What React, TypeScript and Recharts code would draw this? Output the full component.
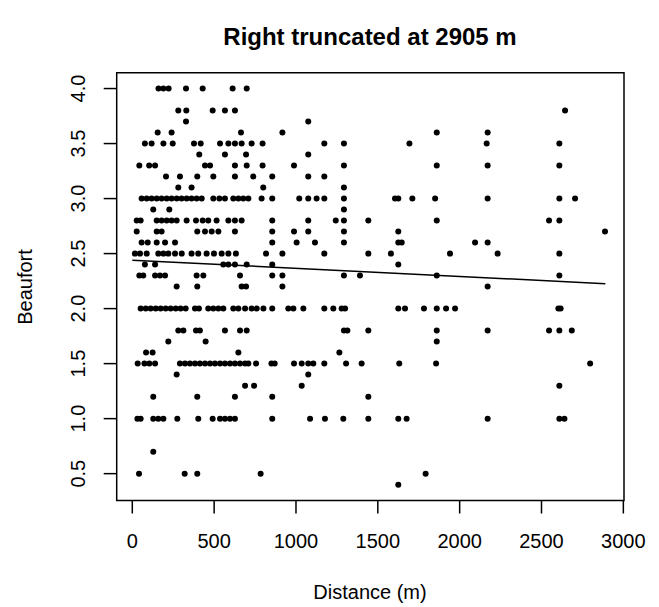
import React from 'react';
import { ScatterChart, Scatter, XAxis, YAxis, ReferenceArea, ReferenceLine } from 'recharts';

// Distances (m) observed at each Beaufort value
const b40 = [160, 190, 222, 328, 430, 613, 699];
const b38 = [281, 330, 491, 566, 627, 2644];
const b37 = [328, 1075];
const b36 = [155, 240, 664, 917, 1860, 2171];
const b35 = [77, 118, 190, 247, 377, 418, 536, 587, 627, 668, 729, 796, 1173, 1293, 1693, 2165, 2609];
const b34 = [409, 566, 695, 1075];
const b33 = [43, 103, 139, 444, 475, 627, 699, 796, 988, 1293, 1860, 2171, 2609];
const b32 = [206, 291, 397, 495, 627, 739, 855, 1075, 1173];
const b31 = [281, 362, 800, 1293];
const b30 = [57, 88, 118, 149, 179, 210, 240, 271, 301, 332, 362, 393, 424, 495, 532, 566, 617, 648, 678, 709, 790, 855, 1020, 1075, 1126, 1173, 1293, 1605, 1625, 1711, 1850, 2171, 2609, 2705];
const b29 = [128, 226, 1293];
const b28 = [27, 51, 149, 179, 210, 240, 271, 332, 389, 430, 464, 515, 587, 627, 668, 855, 1075, 1243, 1293, 1442, 1860, 2546, 2609];
const b27 = [27, 149, 179, 397, 444, 485, 526, 627, 855, 988, 1075, 1293, 1625, 2888];
const b26 = [57, 94, 149, 200, 261, 855, 1004, 1116, 1293, 1625, 1646, 2094, 2171];
const b25 = [16, 47, 88, 159, 190, 220, 261, 302, 362, 403, 454, 499, 546, 587, 633, 817, 917, 1173, 1442, 1580, 1941, 2232, 2609];
const b24 = [77, 139, 556, 587, 627, 699, 855, 1625];
const b23 = [43, 67, 139, 169, 200, 393, 434, 658, 855, 917, 1293, 1391, 1860, 2609];
const b22 = [271, 397, 668, 695, 917, 2171];
const b20 = [51, 82, 112, 143, 173, 204, 234, 265, 295, 326, 383, 407, 464, 495, 526, 556, 617, 648, 689, 729, 760, 801, 855, 953, 984, 1045, 1173, 1228, 1279, 1300, 1625, 1666, 1782, 1860, 1917, 1972, 2603, 2617];
const b18 = [281, 312, 389, 413, 566, 658, 699, 1293, 1314, 1442, 1860, 2171, 2546, 2609, 2685];
const b17 = [220, 448, 1860];
const b16 = [84, 124, 648, 1265];
const b15 = [33, 74, 104, 139, 291, 322, 352, 383, 413, 444, 475, 505, 536, 566, 597, 627, 658, 689, 709, 756, 850, 870, 988, 1035, 1075, 1106, 1173, 1306, 1401, 1631, 1856, 2797];
const b14 = [271, 1075];
const b13 = [689, 744, 1035, 2609];
const b12 = [128, 397, 627, 855, 1442];
const b10 = [31, 51, 128, 159, 190, 275, 403, 491, 536, 566, 597, 627, 855, 1086, 1177, 1289, 1442, 1625, 1676, 2171, 2609, 2640];
const b07 = [128];
const b05 = [41, 320, 397, 784, 1792];
const b04 = [1625];

const rows: [number, number[]][] = [
  [4.0, b40], [3.8, b38], [3.7, b37], [3.6, b36], [3.5, b35], [3.4, b34], [3.3, b33],
  [3.2, b32], [3.1, b31], [3.0, b30], [2.9, b29], [2.8, b28], [2.7, b27], [2.6, b26],
  [2.5, b25], [2.4, b24], [2.3, b23], [2.2, b22], [2.0, b20], [1.8, b18], [1.7, b17],
  [1.6, b16], [1.5, b15], [1.4, b14], [1.3, b13], [1.2, b12], [1.0, b10], [0.7, b07],
  [0.5, b05], [0.4, b04],
];

// Fitted line endpoints
const lineX = [0, 2890];
const lineY = [2.44, 2.227];

const xTicks = [0, 500, 1000, 1500, 2000, 2500, 3000];
const yTicks = [0.5, 1.0, 1.5, 2.0, 2.5, 3.0, 3.5, 4.0];

const xDomain = [-95.3, 3004];
const yDomain = [0.256, 4.144];

const points = rows.flatMap(([b, ds]) => ds.map((d) => ({ x: d, y: b })));

const FONT = '"Liberation Sans", Arial, Helvetica, sans-serif';

const Dot = (props: any) => <circle cx={props.cx} cy={props.cy} r={3} fill="#000" />;

const XTick = (props: any) => (
  <text x={props.x} y={548} textAnchor="middle" fontSize={20} fontFamily={FONT} fill="#000">
    {props.payload.value}
  </text>
);

const YTick = (props: any) => (
  <text
    x={85}
    y={props.y}
    textAnchor="middle"
    fontSize={20}
    fontFamily={FONT}
    fill="#000"
    transform={`rotate(-90 85 ${props.y})`}
  >
    {props.payload.value.toFixed(1)}
  </text>
);

export default function App() {
  return (
    <div style={{ position: 'absolute', left: 0, top: 0, width: 659, height: 607, background: '#fff', overflow: 'hidden' }}>
      <ScatterChart
        width={659}
        height={607}
        margin={{ top: 72.7, right: 35, bottom: 46.5, left: 56.7 }}
      >
        <XAxis
          type="number"
          dataKey="x"
          domain={xDomain}
          ticks={xTicks}
          allowDataOverflow
          axisLine={false}
          tickLine={{ stroke: '#000', strokeWidth: 1.5 }}
          tickSize={13}
          height={60}
          tick={<XTick />}
          interval={0}
        />
        <YAxis
          type="number"
          dataKey="y"
          domain={yDomain}
          ticks={yTicks}
          allowDataOverflow
          axisLine={false}
          tickLine={{ stroke: '#000', strokeWidth: 1.5 }}
          tickSize={13}
          width={60}
          tick={<YTick />}
          interval={0}
        />
        <ReferenceArea
          x1={xDomain[0]}
          x2={xDomain[1]}
          y1={yDomain[0]}
          y2={yDomain[1]}
          fill="none"
          stroke="#000"
          strokeWidth={1.5}
          fillOpacity={0}
          ifOverflow="visible"
        />
        <Scatter data={points} shape={<Dot />} isAnimationActive={false} />
        <ReferenceLine
          segment={[
            { x: lineX[0], y: lineY[0] },
            { x: lineX[1], y: lineY[1] },
          ]}
          stroke="#000"
          strokeWidth={1.5}
          ifOverflow="visible"
        />
      </ScatterChart>
      <div
        style={{
          position: 'absolute', left: 370, top: 22, transform: 'translateX(-50%)',
          fontFamily: FONT, fontWeight: 'bold', fontSize: 24, whiteSpace: 'nowrap', lineHeight: '30px',
        }}
      >
        Right truncated at 2905 m
      </div>
      <div
        style={{
          position: 'absolute', left: 370, top: 580, transform: 'translateX(-50%)',
          fontFamily: FONT, fontSize: 20, whiteSpace: 'nowrap', lineHeight: '24px',
        }}
      >
        Distance (m)
      </div>
      <div
        style={{
          position: 'absolute', left: 25, top: 286.6, transform: 'translate(-50%, -50%) rotate(-90deg)',
          fontFamily: FONT, fontSize: 20, whiteSpace: 'nowrap', lineHeight: '24px',
        }}
      >
        Beaufort
      </div>
    </div>
  );
}
